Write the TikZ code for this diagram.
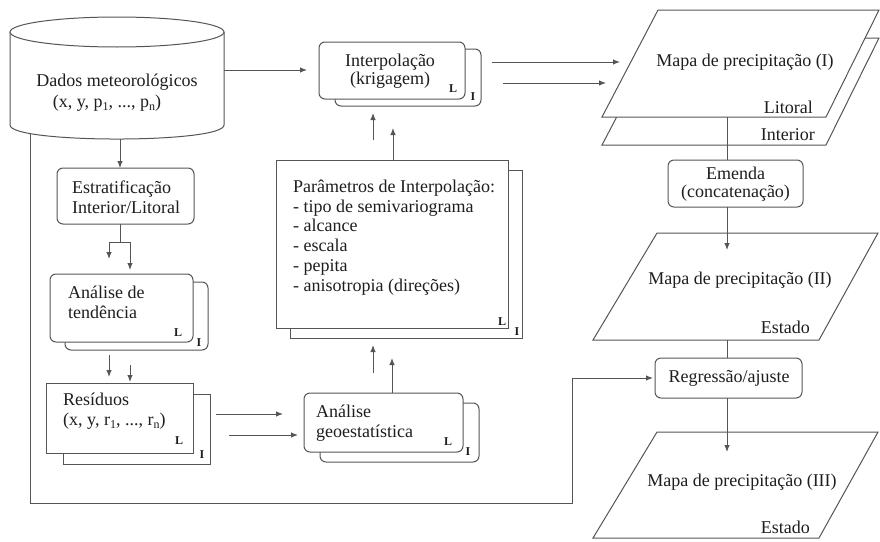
\documentclass[tikz,border=0pt]{standalone}
\usepackage{fontspec}
\setmainfont{Liberation Serif}
\usetikzlibrary{arrows.meta}
\definecolor{lc}{HTML}{555555}
\definecolor{tc}{HTML}{1E1E1E}
\newcommand\lowsub[1]{\raisebox{-0.35ex}{\fontsize{12}{12}\selectfont #1}}
\begin{document}
\begin{tikzpicture}[x=1pt,y=-1pt,
  box/.style={draw=lc, fill=white, line width=1pt, inner sep=0pt, outer sep=0pt},
  rbox/.style={box, rounded corners=6pt},
  txt/.style={text=tc, font=\fontsize{18}{20}\selectfont, inner sep=0pt},
  tag/.style={text=tc, font=\fontsize{12}{12}\selectfont\bfseries, inner sep=0pt},
  arr/.style={draw=lc, line width=1pt, -{Latex[length=7pt,width=5.5pt]}},
  ln/.style={draw=lc, line width=1pt}]
\useasboundingbox (0,0) rectangle (880,541);
\fill[white] (0,0) rectangle (880,541);

% cylinder
\draw[ln, fill=white] (10,32) -- (10,125) .. controls (10,143.7) and (224,143.7) .. (224,125) -- (224,32);
\draw[ln, fill=white] (117,32) ellipse [x radius=107, y radius=15];
\node[txt] (dados1) at (117,82) {Dados meteorológicos};
\node[txt] (dados2) at (107,103) {(x, y, p\lowsub{1}, ..., p\lowsub{n})};
\coordinate (cylE) at (224,70);
\coordinate (cylS) at (120,139);
\coordinate (cylSW) at (30,133);

% Interpolacao
\node[rbox, minimum width=146pt, minimum height=57pt] (interpB) at (408,77.5) {};
\node[rbox, minimum width=146pt, minimum height=57pt] (interp) at (392,70.5) {};
\node[txt, align=center, font=\fontsize{18}{18}\selectfont] (interpT) at (390,71) {Interpolação\\(krigagem)};
\node[tag] (interpL) at (453,89) {L};
\node[tag] (interpI) at (473,97) {I};

% Estratificacao
\node[rbox, minimum width=137pt, minimum height=56pt] (estrat) at (125.5,196) {};
\node[txt, align=left, anchor=west] (estratT) at (72,197.5) {Estratificação\\Interior/Litoral};

% Analise de tendencia
\node[rbox, minimum width=143pt, minimum height=68pt] (tendB) at (136.5,316) {};
\node[rbox, minimum width=143pt, minimum height=68pt] (tend) at (121.5,308) {};
\node[txt, align=left, anchor=west] (tendT) at (68,302) {Análise de\\tendência};
\node[tag] (tendL) at (178,333) {L};
\node[tag] (tendI) at (199,343) {I};

% Residuos
\node[box, minimum width=147pt, minimum height=70pt] (residB) at (136.5,429) {};
\node[box, minimum width=147pt, minimum height=70pt] (resid) at (119.5,418) {};
\node[txt, align=left, anchor=west] (residT) at (63,411.5) {Resíduos\\(x, y, r\lowsub{1}, ..., r\lowsub{n})};
\node[tag] (residL) at (179,441) {L};
\node[tag] (residI) at (202,455) {I};

% Analise geoestatistica
\node[rbox, minimum width=159pt, minimum height=59pt] (geoB) at (399.5,432.5) {};
\node[rbox, minimum width=159pt, minimum height=59pt] (geo) at (383.5,422.5) {};
\node[txt, align=left, anchor=west] (geoT) at (316,423) {Análise\\geoestatística};
\node[tag] (geoL) at (448,442) {L};
\node[tag] (geoI) at (468,452) {I};

% Parametros
\node[box, minimum width=232pt, minimum height=168pt] (paramB) at (406,254) {};
\node[box, minimum width=232pt, minimum height=168pt] (param) at (392,244) {};
\node[txt, align=left, anchor=west, font=\fontsize{18}{19.8}\selectfont] (paramT) at (293,237.5) {Parâmetros de Interpolação:\\- tipo de semivariograma\\- alcance\\- escala\\- pepita\\- anisotropia (direções)};
\node[tag] (paramL) at (502,322) {L};
\node[tag] (paramI) at (517,332) {I};

% Maps
\draw[ln, fill=white] (658,38) -- (879,38) -- (826,145) -- (602,145) -- cycle;
\draw[ln, fill=white] (658,10) -- (879,10) -- (826,117) -- (602,117) -- cycle;
\node[txt] (map1) at (745,62) {Mapa de precipitação (I)};
\node[txt, anchor=east] (lit) at (813,107) {Litoral};
\node[txt, anchor=east] (inte) at (815,135) {Interior};

\node[rbox, minimum width=135pt, minimum height=47pt] (emenda) at (735.5,183.5) {};
\node[txt, align=center, font=\fontsize{18}{18}\selectfont] (emendaT) at (735.5,184) {Emenda\\(concatenação)};

\draw[ln, fill=white] (657,233) -- (878,233) -- (819,340) -- (593,340) -- cycle;
\node[txt] (map2) at (740,280) {Mapa de precipitação (II)};
\node[txt, anchor=east] (est2) at (810,327) {Estado};

\node[rbox, minimum width=147pt, minimum height=40pt] (regr) at (728.5,378) {};
\node[txt] (regrT) at (729,378) {Regressão/ajuste};

\draw[ln, fill=white] (657,432) -- (878,432) -- (819,538) -- (593,538) -- cycle;
\node[txt] (map3) at (742,482) {Mapa de precipitação (III)};
\node[txt, anchor=east] (est3) at (810,527) {Estado};

% connectors
\draw[arr, shorten >=12pt] (cylE) -- (interp.west |- cylE);
\draw[arr] (cylS) -- (cylS |- estrat.north);
\coordinate (loopC) at (572,503);
\draw[arr, shorten >=2pt] (cylSW) |- (loopC) |- (regr.west);

\coordinate (split) at (120,242);
\coordinate (spL) at (109,242);
\coordinate (spR) at (130,242);
\draw[ln] (split |- estrat.south) -- (split);
\draw[ln] (spL) -- (spR);
\draw[arr, shorten >=15pt] (spL) -- (spL |- tend.north);
\draw[arr, shorten >=4pt] (spR) -- (spR |- tend.north);

\coordinate (t1) at (109,355);
\coordinate (t2) at (130,365);
\draw[arr, shorten >=6pt] (t1) -- (t1 |- resid.north);
\draw[arr, shorten >=1pt] (t2) -- (t2 |- resid.north);

\coordinate (r1) at (216,414);
\coordinate (r2) at (229,435);
\draw[arr, shorten >=21pt] (r1) -- (r1 -| geo.west);
\draw[arr, shorten >=6pt] (r2) -- (r2 -| geo.west);

\coordinate (g1) at (373,373);
\coordinate (g2) at (392,393);
\draw[arr, shorten >=7pt] (g1) -- (g1 |- paramB.south);
\draw[arr, shorten >=20pt] (g2) -- (g2 |- paramB.south);

\coordinate (q1) at (373,140);
\coordinate (q2) at (393,160);
\draw[arr, shorten >=7pt] (q1) -- (q1 |- interpB.south);
\draw[arr, shorten >=22pt] (q2) -- (q2 |- interpB.south);

\coordinate (ia1) at (492,62);
\coordinate (ib1) at (620,62);
\coordinate (ia2) at (503,83);
\coordinate (ib2) at (606,83);
\draw[arr] (ia1) -- (ib1);
\draw[arr] (ia2) -- (ib2);

\coordinate (p1s) at (727,117);
\draw[ln] (p1s) -- (p1s |- emenda.north);
\coordinate (p2tip) at (727,250);
\draw[arr] (emenda.south -| p2tip) -- (p2tip);
\coordinate (p2s) at (727,340);
\draw[ln] (p2s) -- (p2s |- regr.north);
\coordinate (p3tip) at (727,452);
\draw[arr] (regr.south -| p3tip) -- (p3tip);
\end{tikzpicture}
\end{document}
